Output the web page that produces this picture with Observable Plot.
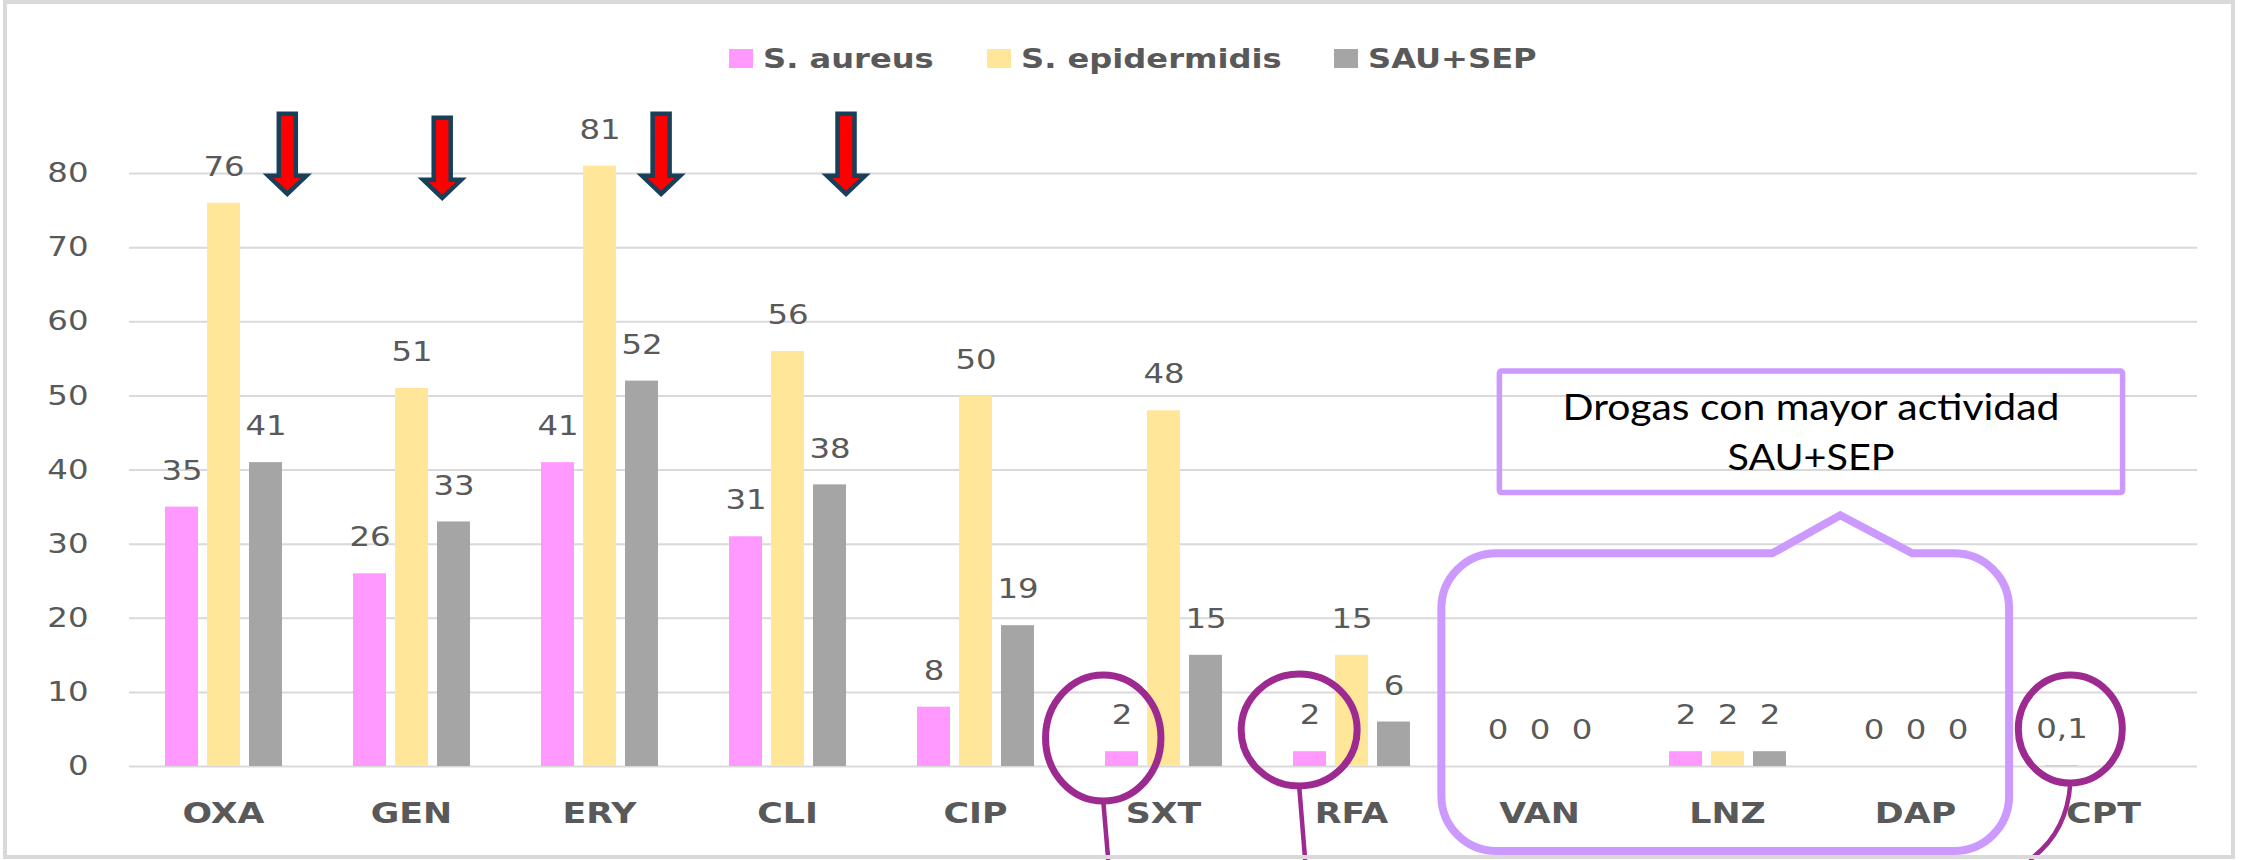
<!DOCTYPE html>
<html>
<head>
<meta charset="utf-8">
<script src="https://cdn.jsdelivr.net/npm/d3@7"></script>
<script src="https://cdn.jsdelivr.net/npm/@observablehq/plot@0.6"></script>
<style>
  html, body { margin: 0; padding: 0; background: #fff; }
  #wrap { position: relative; width: 2254px; height: 860px; overflow: hidden; background: #fff; }
  #wrap > svg { position: absolute; left: 0; top: 0; }
  #frame { position: absolute; left: 3px; top: 0; width: 2232px; height: 859px; box-sizing: border-box;
           border: 4px solid #d9d9d9; pointer-events: none; }
  #legend { position: absolute; left: 729px; top: 38px; height: 40px; display: flex; align-items: center;
            font-family: "DejaVu Sans", sans-serif; font-weight: bold; font-size: 27px; color: #595959;
            white-space: nowrap; }
  #legend .item { display: flex; align-items: center; }
  #legend .sw { width: 24px; height: 19px; margin-right: 10px; flex: none; }
  #legend .lab { display: inline-block; transform-origin: left center; }
</style>
</head>
<body>
<div id="wrap"><div id="legend"></div></div>
<script>
// ---- data ----
const categories = ["OXA", "GEN", "ERY", "CLI", "CIP", "SXT", "RFA", "VAN", "LNZ", "DAP", "CPT"];
const series = ["S. aureus", "S. epidermidis", "SAU+SEP"];
const aureus      = [35, 26, 41, 31, 8, 2, 2, 0, 2, 0, 0.1];
const epidermidis = [76, 51, 81, 56, 50, 48, 15, 0, 2, 0, null];
const combined    = [41, 33, 52, 38, 19, 15, 6, 0, 2, 0, null];
const yTicks = [0, 10, 20, 30, 40, 50, 60, 70, 80];
const seriesColors = ["#ff99ff", "#ffe699", "#a5a5a5"];
const boxLines = ["Drogas con mayor actividad", "SAU+SEP"];
const arrowDrugs = ["OXA", "GEN", "ERY", "CLI"];
const circledDrugs = ["SXT", "RFA", "CPT"];

const valueSets = [aureus, epidermidis, combined];
const rows = [];
categories.forEach((c, i) => {
  valueSets.forEach((vals, j) => {
    if (vals[i] != null) rows.push({drug: c, series: series[j], value: vals[i]});
  });
});
const fmt = v => String(v).replace(".", ",");

// ---- chart ----
const chart = Plot.plot({
  width: 2254,
  height: 860,
  marginTop: 99,
  marginBottom: 94,
  marginLeft: 124,
  marginRight: 52,
  style: {fontFamily: "DejaVu Sans", fontSize: "27px", color: "#595959", background: "transparent", overflow: "visible"},
  fx: {domain: categories, padding: 0, label: null},
  x: {domain: series, paddingInner: 0.2235, paddingOuter: 0.834, axis: null},
  y: {domain: [0, 90], label: null},
  color: {domain: series, range: seriesColors},
  marks: [
    Plot.ruleY(yTicks, {stroke: "#d9d9d9", strokeWidth: 2}),
    Plot.barY(rows, {fx: "drug", x: "series", y: "value", fill: "series"}),
    Plot.text(rows, {fx: "drug", x: "series", y: "value", text: d => fmt(d.value), dy: -36,
                     fontSize: 27, fill: "#595959"}),
    Plot.axisY({ticks: yTicks, tickSize: 0, tickPadding: 41, fontSize: 27, label: null, fill: "#595959"}),
    Plot.axisFx({anchor: "bottom", tickSize: 0, tickPadding: 36, fontSize: 29, fontWeight: "bold",
                 label: null, fill: "#595959"})
  ]
});

const wrap = document.getElementById("wrap");
wrap.insertBefore(chart, wrap.firstChild);

// widen glyphs to match the reference's stretched lettering
chart.querySelectorAll("text").forEach(t => {
  const L = t.getComputedTextLength();
  if (L > 0) {
    t.setAttribute("textLength", (L * 1.2).toFixed(1));
    t.setAttribute("lengthAdjust", "spacingAndGlyphs");
  }
});

// ---- legend ----
const legend = d3.select("#legend");
series.forEach((s, j) => {
  const it = legend.append("div").attr("class", "item");
  it.append("div").attr("class", "sw").style("background", seriesColors[j]);
  it.append("span").attr("class", "lab").text(s);
});
const stretch = 1.19;
legend.selectAll(".lab").each(function(_, k) {
  const w = this.getBoundingClientRect().width;
  d3.select(this).style("transform", `scaleX(${stretch})`)
    .style("margin-right", `${w * (stretch - 1) + (k < series.length - 1 ? 53 : 0)}px`);
});

// ---- annotations positioned through the plot's scales ----
const fxS = chart.scale("fx"), xS = chart.scale("x"), yS = chart.scale("y");
const fx = d3.scaleBand(fxS.domain, fxS.range).paddingInner(fxS.paddingInner ?? 0)
  .paddingOuter(fxS.paddingOuter ?? 0).align(fxS.align ?? 0.5);
const xr0 = Math.min(...xS.range);
const xb = d3.scaleBand(xS.domain, xS.range.map(v => v - xr0)).paddingInner(xS.paddingInner)
  .paddingOuter(xS.paddingOuter).align(xS.align ?? 0.5);
const y = d3.scaleLinear(yS.domain, yS.range);
const barCenter = (drug, s) => fx(drug) + xb(s) + xb.bandwidth() / 2;

const svg = d3.select(chart);
const g = svg.append("g");

// red arrows
const arrowNudge = {OXA: [27, 0], GEN: [-7, 4], ERY: [23, 0], CLI: [19, 0]};
arrowDrugs.forEach(d => {
  const cx = barCenter(d, "SAU+SEP") + arrowNudge[d][0];
  const top = y(88) + arrowNudge[d][1];
  g.append("path")
    .attr("d", `M${cx - 8.5},${top}H${cx + 8.5}V${top + 62}H${cx + 19}L${cx},${top + 80}L${cx - 19},${top + 62}H${cx - 8.5}Z`)
    .attr("fill", "#ff0000").attr("stroke", "#17405a").attr("stroke-width", 4.5).attr("stroke-linejoin", "miter");
});

// callout shape around VAN..DAP with pointer
{
  const L = fx("VAN") - 5, R = fx("DAP") + fx.bandwidth() - 4;
  const T = y(28.7), B = y(0) + 85, r = 55;
  const pc = (L + R) / 2 + 117, pw = 70, apex = T - 38;
  g.append("path")
    .attr("d", `M${L + r},${T}H${pc - pw}L${pc - 2},${apex}L${pc + pw},${T}H${R - r}A${r},${r} 0 0 1 ${R},${T + r}` +
               `V${B - r}A${r},${r} 0 0 1 ${R - r},${B}H${L + r}A${r},${r} 0 0 1 ${L},${B - r}V${T + r}A${r},${r} 0 0 1 ${L + r},${T}Z`)
    .attr("fill", "none").attr("stroke", "#cc99ff").attr("stroke-width", 8);
}

// text box
{
  const x1 = fx("VAN") + 53, x2 = fx("CPT") + fx.bandwidth() / 2 + 15;
  const y1 = y(53.3), y2 = y(36.9);
  g.append("rect").attr("x", x1).attr("y", y1).attr("width", x2 - x1).attr("height", y2 - y1)
    .attr("rx", 2).attr("fill", "none").attr("stroke", "#cc99ff").attr("stroke-width", 5.5);
  const cx = (x1 + x2) / 2;
  const lens = [497, 167];
  boxLines.forEach((line, k) => {
    g.append("text").attr("x", cx).attr("y", y1 + 49 + k * 50)
      .attr("text-anchor", "middle").attr("font-family", "Lato, sans-serif").attr("font-size", 37)
      .attr("fill", "#000").attr("textLength", lens[k]).attr("lengthAdjust", "spacingAndGlyphs")
      .text(line);
  });
}

// purple circles with leader lines
const circleGeom = {
  SXT: {dx: -17, cy: -28, rx: 57.7, ry: 63, lead: (cx, b) => `M${cx},${b}L${cx + 5},860`},
  RFA: {dx: -10, cy: -36, rx: 58, ry: 56, lead: (cx, b) => `M${cx},${b}L${cx + 6},860`},
  CPT: {dx: 5.5, cy: -37, rx: 52, ry: 54, lead: (cx, b) => `M${cx},${b}Q${cx - 3},${b + 50} ${cx - 41},860`}
};
circledDrugs.forEach(d => {
  const c = circleGeom[d];
  const cx = barCenter(d, "S. aureus") + c.dx;
  const cy = y(0) + c.cy;
  g.append("path").attr("d", c.lead(cx, cy + c.ry)).attr("fill", "none")
    .attr("stroke", "#9c2a90").attr("stroke-width", 4.5);
  g.append("ellipse").attr("cx", cx).attr("cy", cy).attr("rx", c.rx).attr("ry", c.ry)
    .attr("fill", "none").attr("stroke", "#9c2a90").attr("stroke-width", 7);
});

// outer frame
const frame = document.createElement("div");
frame.id = "frame";
wrap.appendChild(frame);
</script>
</body>
</html>
